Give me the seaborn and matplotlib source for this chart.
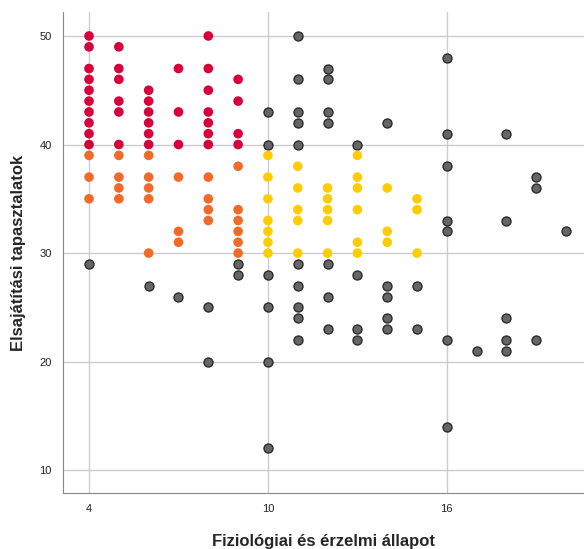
import pandas as pd
import matplotlib.pyplot as plt
import seaborn as sns

sns.set_style("white")
plt.rcParams['font.family'] = ['Liberation Sans', 'DejaVu Sans']

# values, per x column: (x, group, list of y)
red = {
    4: [50, 49, 47, 46, 45, 44, 43, 42, 41, 40],
    5: [49, 47, 46, 44, 43, 40],
    6: [45, 44, 43, 42, 41, 40],
    7: [47, 43, 40],
    8: [50, 47, 45, 43, 42, 41, 40],
    9: [46, 44, 41, 40],
}
orange = {
    4: [39, 37, 35],
    5: [39, 37, 36, 35],
    6: [39, 37, 36, 35, 30],
    7: [37, 32, 31],
    8: [37, 35, 34, 33],
    9: [38, 34, 33, 32, 31, 30],
}
yellow = {
    10: [39, 37, 35, 33, 32, 31, 30],
    11: [38, 36, 34, 33, 30],
    12: [36, 35, 34, 33, 30],
    13: [39, 37, 36, 34, 31, 30],
    14: [36, 32, 31],
    15: [35, 34, 30],
}
gray = {
    4: [29],
    6: [27],
    7: [26],
    8: [25, 20],
    9: [29, 28],
    10: [43, 40, 28, 25, 20, 12],
    11: [50, 46, 43, 42, 40, 29, 27, 25, 24, 22],
    12: [47, 46, 43, 42, 29, 26, 23],
    13: [40, 28, 23, 22],
    14: [42, 27, 26, 24, 23],
    15: [27, 23],
    16: [48, 41, 38, 33, 32, 22, 14],
    17: [21],
    18: [41, 33, 24, 22, 21],
    19: [37, 36, 22],
    20: [32],
}

rows = []
for name, grp in [("gray", gray), ("red", red), ("orange", orange), ("yellow", yellow)]:
    for x, ys in grp.items():
        for y in ys:
            rows.append({"x": x, "y": y, "group": name})
df = pd.DataFrame(rows)

fig = plt.figure(figsize=(5.84, 5.49), dpi=100)
ax = fig.add_axes([0.108, 0.102, 0.892, 0.876])

ax.set_axisbelow(True)
ax.grid(True, color="#cccccc", linewidth=1)

colored = df[df["group"] != "gray"]
sns.scatterplot(data=df[df["group"] == "gray"], x="x", y="y", color="#666666",
                edgecolor="#2b2b2b", linewidth=1, s=42, ax=ax, zorder=3)
sns.scatterplot(data=colored, x="x", y="y", hue="group",
                palette={"red": "#d8003a", "orange": "#f26a2a", "yellow": "#ffcc00"},
                edgecolor="none", s=48, ax=ax, legend=False, zorder=3)

ax.set_xlim(3.13, 20.6)
ax.set_ylim(7.9, 52.2)
ax.set_xticks([4, 10, 16])
ax.set_yticks([10, 20, 30, 40, 50])
ax.tick_params(labelsize=8, length=0, pad=8, colors="#222222")
ax.set_xlabel("Fiziológiai és érzelmi állapot", fontsize=12, fontweight="bold", labelpad=14)
ax.set_ylabel("Elsajátítási tapasztalatok", fontsize=12, fontweight="bold", labelpad=10)

for side in ["top", "right"]:
    ax.spines[side].set_visible(False)
for side in ["left", "bottom"]:
    ax.spines[side].set_color("#888888")

fig.savefig("out.png", dpi=100)
